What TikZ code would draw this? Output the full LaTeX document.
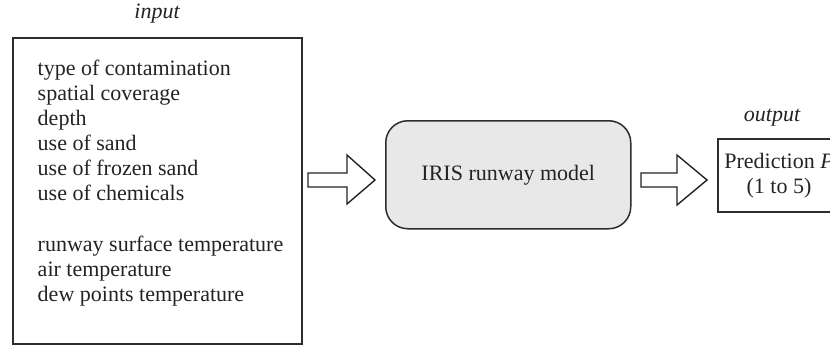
\documentclass[tikz,border=0pt]{standalone}
\usepackage{fontspec}
\setmainfont{Liberation Serif}
\begin{document}
\begin{tikzpicture}[x=1pt,y=-1pt,
  line width=1.5pt, draw={rgb,255:red,45;green,45;blue,45},
  txt/.style={inner sep=0pt, font=\fontsize{22}{25}\selectfont, text={rgb,255:red,35;green,35;blue,35}},
  ln/.style={txt, anchor=base west},
  fatarrow/.style={draw={rgb,255:red,35;green,35;blue,35}, line width=1.4pt, fill=white, line join=miter}
]
\useasboundingbox (0,0) rectangle (830,348);
\clip (0,0) rectangle (830,348);
% input box
\node[draw, minimum width=289pt, minimum height=306pt, inner sep=0pt, anchor=north west] (inbox) at (12,37) {};
\node[txt, font=\fontsize{22}{25}\selectfont\itshape] (inlabel) at (157,14) {input};
\node[ln] (l1) at (37,75) {type of contamination};
\node[ln] (l2) at (37,100) {spatial coverage};
\node[ln] (l3) at (37,125) {depth};
\node[ln] (l4) at (37,150) {use of sand};
\node[ln] (l5) at (37,175) {use of frozen sand};
\node[ln] (l6) at (37,200) {use of chemicals};
\node[ln] (l7) at (37,251) {runway surface temperature};
\node[ln] (l8) at (37,276) {air temperature};
\node[ln] (l9) at (37,301) {dew points temperature};
% model
\node[draw, fill={rgb,255:red,232;green,232;blue,232}, rounded corners=22pt, minimum width=245pt, minimum height=108pt, inner sep=0pt, anchor=north west] (model) at (385,120) {};
\node[txt] (mtext) at (model.center) {IRIS runway model};
% output
\node[draw, minimum width=124pt, minimum height=73pt, inner sep=0pt, anchor=north west] (outbox) at (717,138) {};
\node[txt, font=\fontsize{22}{25}\selectfont\itshape] (outlabel) at (772,118) {output};
\node[txt, align=center] (otext) at (779,176) {Prediction \textit{P}\\(1 to 5)};
% arrows
\coordinate (a1s) at ([xshift=7pt]inbox.east |- 0,180);
\draw[fatarrow] (308,173) -- (347,173) -- (347,155) -- (375,180) -- (347,204) -- (347,187) -- (308,187) -- cycle;
\draw[fatarrow] (641,173) -- (677,173) -- (677,155) -- (707,180) -- (677,205) -- (677,187) -- (641,187) -- cycle;
\end{tikzpicture}
\end{document}
